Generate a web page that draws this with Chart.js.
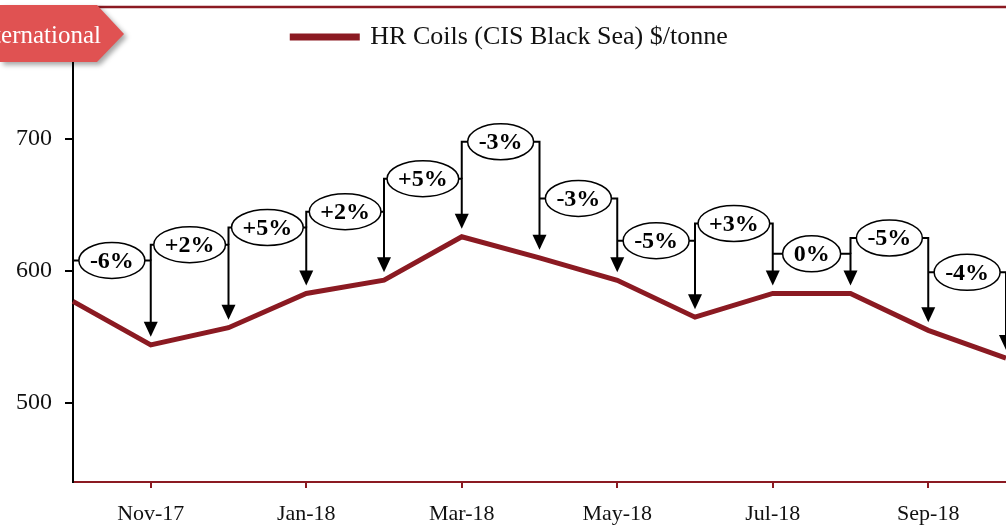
<!DOCTYPE html>
<html>
<head>
<meta charset="utf-8">
<script src="https://cdn.jsdelivr.net/npm/chart.js@4.4.1/dist/chart.umd.min.js"></script>
<style>
body { margin: 0; background: #fff; }
</style>
</head>
<body>
<canvas id="hrChart" width="1006" height="525"></canvas>
<script>
// monthly HR coil prices, $/tonne
let months = ["Oct-17", "Nov-17", "Dec-17", "Jan-18", "Feb-18", "Mar-18", "Apr-18",
              "May-18", "Jun-18", "Jul-18", "Aug-18", "Sep-18", "Oct-18"];
let hr_price = [577, 544, 557, 583, 593, 626, 610, 593, 565, 583, 583, 555, 534];
let pct_change = ["-6%", "+2%", "+5%", "+2%", "+5%", "-3%", "-3%", "-5%", "+3%", "0%", "-5%", "-4%"];
// height of each callout bracket, in $/tonne
let bracket_level = [608, 620, 633, 645, 670, 698, 655, 623, 636, 613, 625, 599];
let y_ticks = [500, 600, 700];
let y_min = 440;
let y_max = 760;

let darkRed = '#8b1a22';
let serif = '"Liberation Serif", serif';

let bracketPlugin = {
    id: 'brackets',
    afterDatasetsDraw(chart) {
        let ctx = chart.ctx;
        let xs = chart.scales.x;
        let ys = chart.scales.y;
        ctx.save();
        ctx.font = 'bold 24px ' + serif;
        ctx.strokeStyle = '#000';
        ctx.fillStyle = '#000';
        for (let i = 0; i < pct_change.length; i++) {
            let x0 = xs.getPixelForValue(i);
            let x1 = xs.getPixelForValue(i + 1);
            let lv = ys.getPixelForValue(bracket_level[i]);
            let prev = i === 0 ? lv + 33 : ys.getPixelForValue(bracket_level[i - 1]);
            let tip = ys.getPixelForValue(hr_price[i + 1]) - 8;
            ctx.lineWidth = 2;
            ctx.beginPath();
            if (prev > lv) {
                ctx.moveTo(x0, prev);
                ctx.lineTo(x0, lv);
            } else {
                ctx.moveTo(x0, lv);
            }
            ctx.lineTo(x1, lv);
            ctx.lineTo(x1, tip - 14);
            ctx.stroke();
            ctx.beginPath();
            ctx.moveTo(x1 - 7, tip - 15);
            ctx.lineTo(x1 + 7, tip - 15);
            ctx.lineTo(x1, tip);
            ctx.closePath();
            ctx.fill();

            let tw = ctx.measureText(pct_change[i]).width;
            let cx = (x0 + x1) / 2;
            ctx.beginPath();
            ctx.ellipse(cx, lv, tw / 2 + 11, 18, 0, 0, Math.PI * 2);
            ctx.fillStyle = '#fff';
            ctx.fill();
            ctx.lineWidth = 1.5;
            ctx.stroke();
            ctx.fillStyle = '#000';
            ctx.textAlign = 'center';
            ctx.textBaseline = 'middle';
            ctx.fillText(pct_change[i], cx, lv + 1);
        }
        ctx.restore();
    }
};

let tagPlugin = {
    id: 'tag',
    afterDraw(chart) {
        let ctx = chart.ctx;
        ctx.save();
        ctx.strokeStyle = darkRed;
        ctx.lineWidth = 2.5;
        ctx.beginPath();
        ctx.moveTo(90, 7);
        ctx.lineTo(1006, 7);
        ctx.stroke();

        ctx.shadowColor = 'rgba(0,0,0,0.35)';
        ctx.shadowOffsetX = 3;
        ctx.shadowOffsetY = 3;
        ctx.shadowBlur = 5;
        ctx.fillStyle = '#e05252';
        ctx.beginPath();
        ctx.moveTo(0, 5);
        ctx.lineTo(97, 5);
        ctx.lineTo(124, 34);
        ctx.lineTo(97, 62);
        ctx.lineTo(0, 62);
        ctx.closePath();
        ctx.fill();
        ctx.shadowColor = 'transparent';
        ctx.fillStyle = '#fff';
        ctx.font = '25px ' + serif;
        ctx.textAlign = 'right';
        ctx.textBaseline = 'alphabetic';
        ctx.fillText('International', 101, 43);
        ctx.restore();
    }
};

let ctx1 = document.getElementById('hrChart');
let hrChart = new Chart(ctx1, {
    type: 'line',
    data: {
        labels: months,
        datasets: [{
            label: 'HR Coils (CIS Black Sea) $/tonne',
            data: hr_price,
            borderColor: darkRed,
            backgroundColor: darkRed,
            borderWidth: 5,
            pointRadius: 0,
            tension: 0
        }]
    },
    options: {
        responsive: false,
        animation: false,
        layout: { padding: { top: 11, left: 14, right: 0, bottom: 0 } },
        plugins: {
            legend: {
                labels: {
                    boxWidth: 65,
                    boxHeight: 2,
                    padding: 13,
                    color: '#111',
                    font: { family: serif, size: 26 }
                }
            },
            tooltip: { enabled: false }
        },
        scales: {
            x: {
                offset: false,
                border: { color: darkRed, width: 2 },
                grid: {
                    drawOnChartArea: false,
                    tickLength: 6,
                    lineWidth: 2,
                    color: (c) => c.index % 2 === 1 ? darkRed : 'rgba(0,0,0,0)'
                },
                ticks: {
                    autoSkip: false,
                    maxRotation: 0,
                    padding: 13,
                    color: '#111',
                    font: { family: serif, size: 22 },
                    callback: function (val, idx) { return idx % 2 === 1 ? months[idx] : ''; }
                },
                afterFit: (s) => { s.height = 43; s.paddingLeft = 0; s.paddingRight = 0; }
            },
            y: {
                min: y_min,
                max: y_max,
                border: { color: '#000', width: 2 },
                grid: { drawOnChartArea: false, tickLength: 8, lineWidth: 2, color: '#000' },
                afterBuildTicks: (s) => { s.ticks = y_ticks.map(v => ({ value: v })); },
                ticks: {
                    padding: 13,
                    color: '#111',
                    font: { family: serif, size: 24 }
                },
                afterFit: (s) => { s.width = 59; }
            }
        }
    },
    plugins: [bracketPlugin, tagPlugin]
});
</script>
</body>
</html>
